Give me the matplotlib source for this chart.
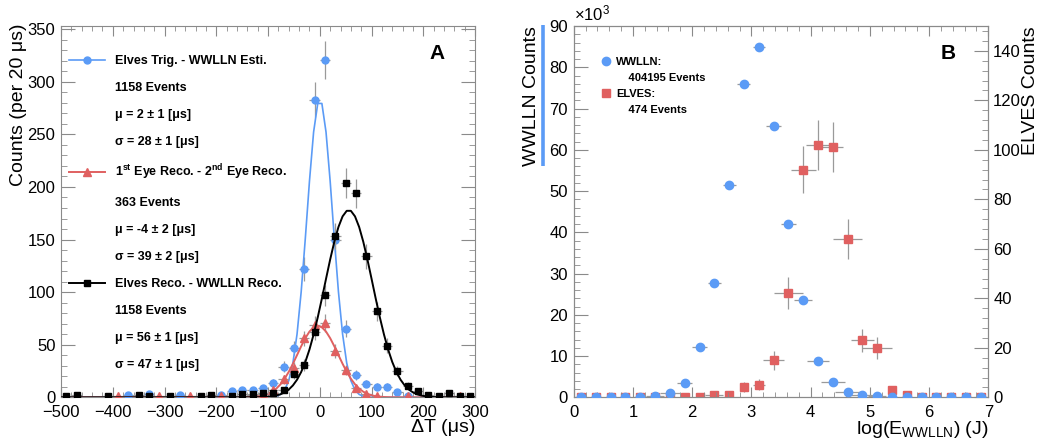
import numpy as np
import matplotlib
matplotlib.use("Agg")
import matplotlib.pyplot as plt
from matplotlib.lines import Line2D
from matplotlib.ticker import MultipleLocator

plt.rcParams['font.family'] = ['Liberation Sans', 'DejaVu Sans']
plt.rcParams['mathtext.fontset'] = 'custom'
plt.rcParams['mathtext.rm'] = 'Liberation Sans'
plt.rcParams['mathtext.it'] = 'Liberation Sans:italic'
plt.rcParams['mathtext.bf'] = 'Liberation Sans:bold'

# ---- panel A data (bin centres in us, counts per 20 us; empty bins left out)
trig_dt = [-370, -330, -270, -190, -170, -150, -130, -110, -90, -70, -50, -30, -10,
           10, 30, 50, 70, 90, 110, 130, 150, 170]
trig_n = [2, 3, 2, 2, 6, 7, 7, 9, 14, 29, 47, 122, 283,
          321, 150, 65, 21, 13, 10, 10, 5, 1]

eye_dt = [-390, -310, -250, -190, -150, -130, -110, -90, -70, -50, -30, -10,
          10, 30, 50, 70, 90, 110, 170, 270]
eye_n = [1, 1, 1, 1, 1, 2, 3, 7, 17, 28, 56, 69,
         71, 44, 26, 9, 3, 1, 1, 1]

reco_dt = [-490, -470, -410, -350, -330, -290, -230, -210, -170, -150, -130, -110,
           -90, -70, -50, -30, -10, 10, 30, 50, 70, 90, 110, 130, 150, 170, 190,
           210, 230, 250, 270, 290]
reco_n = [1, 2, 1, 2, 1, 1, 1, 2, 1, 3, 3, 4,
          4, 7, 22, 31, 62, 97, 153, 204, 194, 134, 82, 49, 25, 11, 6,
          2, 1, 4, 1, 1]

# gaussian fits (amplitude, mean, sigma) as drawn
trig_fit = [283, 0, 25]
eye_fit = [68, -4, 39]
reco_fit = [178, 56, 46]

legend_a = ["Elves Trig. - WWLLN Esti.", "1158 Events", "\u03bc = 2 \u00b1 1 [\u03bcs]",
            "\u03c3 = 28 \u00b1 1 [\u03bcs]",
            r"1$^{\mathbf{st}}$ Eye Reco. - 2$^{\mathbf{nd}}$ Eye Reco.", "363 Events",
            "\u03bc = -4 \u00b1 2 [\u03bcs]", "\u03c3 = 39 \u00b1 2 [\u03bcs]",
            "Elves Reco. - WWLLN Reco.", "1158 Events", "\u03bc = 56 \u00b1 1 [\u03bcs]",
            "\u03c3 = 47 \u00b1 1 [\u03bcs]"]

# ---- panel B data
loge = [0.125, 0.375, 0.625, 0.875, 1.125, 1.375, 1.625, 1.875, 2.125, 2.375,
        2.625, 2.875, 3.125, 3.375, 3.625, 3.875, 4.125, 4.375, 4.625, 4.875,
        5.125, 5.375, 5.625, 5.875, 6.125, 6.375, 6.625, 6.875]
wwlln_k = [0, 0, 0, 0, 0.05, 0.4, 1.0, 3.5, 12.1, 27.6,
           51.5, 75.9, 85.0, 65.7, 42.1, 23.6, 8.7, 3.8, 1.4, 0.5,
           0.25, 0.1, 0, 0, 0, 0, 0, 0]
wwlln_xerr = [0, 0, 0, 0, 0.1, 0.15, 0.17, 0.13, 0.12, 0.11,
              0.11, 0.11, 0.1, 0.12, 0.13, 0.15, 0.18, 0.2, 0.22, 0.22,
              0.15, 0, 0, 0, 0, 0, 0, 0]
elves_n = [0, 0, 0, 0, 0, 0, 0, 0, 0, 1,
           1, 4, 5, 15, 42, 92, 102, 101, 64, 23,
           20, 3, 1, 0, 0, 0, 0, 0]
elves_xerr = [0, 0, 0, 0, 0, 0, 0, 0, 0, 0.15,
              0.05, 0.07, 0.1, 0.18, 0.24, 0.21, 0.21, 0.18, 0.24, 0.2,
              0.25, 0.05, 0.05, 0, 0, 0, 0, 0]

BLUE = '#5b9bf6'
RED = '#e06060'
GRAY = '#8a8a8a'
ERR = '#9a9a9a'

fig = plt.figure(figsize=(10.4, 4.43), dpi=100)
axl = fig.add_axes([0.0587, 0.1031, 0.3981, 0.8381])
axr = fig.add_axes([0.5516, 0.1031, 0.3987, 0.8381])


def style(ax, xmaj, xmin, ymaj, ymin):
    ax.xaxis.set_major_locator(MultipleLocator(xmaj))
    ax.xaxis.set_minor_locator(MultipleLocator(xmin))
    ax.yaxis.set_major_locator(MultipleLocator(ymaj))
    ax.yaxis.set_minor_locator(MultipleLocator(ymin))
    ax.tick_params(which='both', direction='in', color=GRAY, labelsize=12)
    ax.tick_params(axis='x', which='major', length=7, pad=5.5)
    ax.tick_params(axis='x', which='minor', length=3.5)
    ax.tick_params(axis='y', which='major', length=10, pad=4)
    ax.tick_params(axis='y', which='minor', length=4)
    for s in ax.spines.values():
        s.set_color(GRAY)


# ---------------- panel A
style(axl, 100, 20, 50, 10)
axl.tick_params(which='both', top=True, right=True)
axl.set_xlim(-500, 300)
axl.set_ylim(0, 353)

xs = np.linspace(-500, 300, 101)
series = [(trig_dt, trig_n, trig_fit, BLUE, 'o', 5, 1.2),
          (eye_dt, eye_n, eye_fit, RED, '^', 6, 1.4),
          (reco_dt, reco_n, reco_fit, 'black', 's', 5, 1.4)]
handles = []
for k, (dt, n, fit, col, mk, ms, lw) in enumerate(series):
    n = np.array(n, dtype=float)
    axl.errorbar(dt, n, xerr=10, yerr=np.sqrt(n), fmt='none', ecolor=ERR,
                 elinewidth=0.9, zorder=2 + k)
    a, mu, sg = fit
    axl.plot(xs, a * np.exp(-(xs - mu) ** 2 / (2 * sg ** 2)), color=col, lw=lw,
             zorder=3 + k)
    axl.plot(dt, n, ls='none', marker=mk, ms=ms, color=col, zorder=4 + k)
    blank = Line2D([], [], ls='none')
    handles += [Line2D([], [], color=col, lw=lw, marker=mk, ms=ms), blank, blank, blank]

axl.legend(handles, legend_a, loc='upper left', bbox_to_anchor=(0.019, 0.921),
           frameon=False, borderpad=0, borderaxespad=0, handlelength=2.9,
           handletextpad=0.75, labelspacing=1.19,
           prop={'weight': 'bold', 'size': 9})

axl.text(0.908, 0.925, 'A', transform=axl.transAxes, ha='center', va='center',
         fontsize=15, fontweight='bold')
axl.set_xlabel('\u0394T (\u03bcs)', fontsize=14, loc='right')
axl.xaxis.set_label_coords(1.0, -0.058)
axl.set_ylabel('Counts (per 20 \u03bcs)', fontsize=14, loc='top')
axl.yaxis.set_label_coords(-0.082, 1.008)

# ---------------- panel B
ax2 = axr.twinx()
style(axr, 1, 0.2, 10, 2)
axr.tick_params(which='both', top=True, right=False)
style(ax2, 1, 0.2, 20, 4)
ax2.tick_params(axis='y', which='major', pad=3.5)
axr.set_xlim(0, 7)
axr.set_ylim(0, 90)
ax2.set_ylim(0, 150)

elves = np.array(elves_n, dtype=float)
ax2.errorbar(loge, elves, xerr=elves_xerr, yerr=np.sqrt(elves), fmt='none',
             ecolor=ERR, elinewidth=0.9, zorder=2)
ax2.plot(loge, elves, ls='none', marker='s', ms=6, color=RED, zorder=3)

wk = np.array(wwlln_k)
axr.errorbar(loge, wk, xerr=wwlln_xerr, yerr=np.sqrt(wk * 1000) / 1000, fmt='none',
             ecolor=ERR, elinewidth=0.9, zorder=2)
axr.plot(loge, wk, ls='none', marker='o', ms=6, color=BLUE, zorder=3)
axr.set_zorder(ax2.get_zorder() + 1)
axr.patch.set_visible(False)

h_b = [Line2D([], [], ls='none', marker='o', ms=6, color=BLUE), Line2D([], [], ls='none'),
       Line2D([], [], ls='none', marker='s', ms=6, color=RED), Line2D([], [], ls='none')]
axr.legend(h_b, ['WWLLN:', '    404195 Events', 'ELVES:', '    474 Events'],
           loc='upper left', bbox_to_anchor=(0.066, 0.917), frameon=False,
           borderpad=0, borderaxespad=0, handlelength=0.85, handletextpad=0.5,
           labelspacing=0.55, prop={'weight': 'bold', 'size': 8.0})

axr.text(0.903, 0.927, 'B', transform=axr.transAxes, ha='center', va='center',
         fontsize=15, fontweight='bold')
axr.text(0.0, 1.008, r'$\times$10$^3$', transform=axr.transAxes, ha='left',
         va='bottom', fontsize=12)
axr.set_xlabel(r'log(E$_{\mathrm{WWLLN}}$) (J)', fontsize=14, loc='right')
axr.xaxis.set_label_coords(1.0, -0.058)
axr.set_ylabel('WWLLN Counts', fontsize=14, loc='top')
axr.yaxis.set_label_coords(-0.081, 1.0)
axr.plot([-0.074, -0.074], [1.003, 0.622], transform=axr.transAxes, color=BLUE,
         lw=2.6, clip_on=False, solid_capstyle='butt')
ax2.set_ylabel('ELVES Counts', fontsize=14, loc='top', rotation=90)
ax2.yaxis.set_label_coords(1.081, 1.0)

fig.savefig('out.png', dpi=100)
